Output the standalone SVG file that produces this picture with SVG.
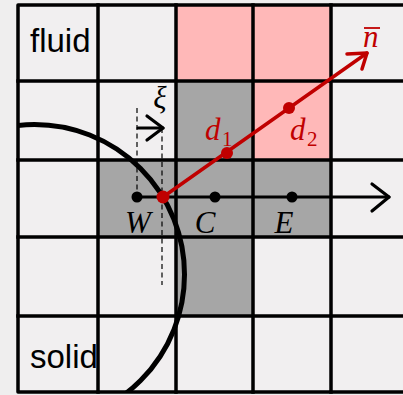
<svg xmlns="http://www.w3.org/2000/svg" width="403" height="395" viewBox="0 0 403 395">
<style>
.cell{fill:#f1eff0}
.pink{fill:#ffb8b8}
.gray{fill:#a6a6a6}
.grid{stroke:#000;stroke-width:3.5;fill:none;stroke-linejoin:round;stroke-linecap:square}
.lbl{font-family:"Liberation Sans",Arial,sans-serif;font-size:33px;fill:#000}
.math{font-family:"Liberation Serif","Times New Roman",serif;font-style:italic;font-size:31px}
.sub{font-family:"Liberation Serif","Times New Roman",serif;font-size:21px}
.dash{stroke:#000;stroke-width:1.2;stroke-dasharray:5 3.5;fill:none}
.blk{stroke:#000;stroke-width:3.2;fill:none;stroke-linecap:round;stroke-linejoin:round}
.red{stroke:#c00000;stroke-width:3.5;fill:none;stroke-linecap:round;stroke-linejoin:round}
</style>
<defs>
<clipPath id="gclip"><rect x="18" y="5" width="385" height="387"/></clipPath>
</defs>
<rect x="0" y="0" width="403" height="395" fill="#efeeee"/>
<g id="cells">
<rect class="cell" x="18" y="5" width="385" height="387"/>
<rect class="pink" x="176" y="5" width="155" height="76"/>
<rect class="pink" x="253" y="81" width="78" height="79"/>
<rect class="gray" x="176" y="81" width="77" height="79"/>
<rect class="gray" x="98" y="160" width="233" height="77"/>
<rect class="gray" x="176" y="237" width="77" height="79"/>
</g>
<g id="grid" class="grid">
<path d="M405,5 H18 V392 H405"/>
<path d="M98,5 V392 M176,5 V392 M253,5 V392 M331,5 V392"/>
<path d="M18,81 H405 M18,160 H405 M18,237 H405 M18,316 H405"/>
</g>
<g id="labels">
<text class="lbl" x="30" y="52">fluid</text>
<text class="lbl" x="30" y="368">solid</text>
</g>
<g id="solid-boundary">
<circle cx="34.5" cy="274.5" r="150" fill="none" stroke="#000" stroke-width="5" clip-path="url(#gclip)"/>
</g>
<g id="connectors">
<path class="dash" d="M137,108 V197"/>
<path class="dash" d="M162,128 V285"/>
<g id="xi-arrow">
<path class="blk" d="M138,128 H163" stroke-width="4"/>
<path class="blk" d="M147,116 L163,128 L147,140" stroke-width="4"/>
</g>
<g id="axis-arrow">
<path class="blk" d="M137,197 H389"/>
<path class="blk" d="M372,184 L389,197 L372,211"/>
</g>
<g id="normal-arrow">
<path class="red" d="M163,197 L367,53"/>
<path class="red" d="M347,54 L367,53 L362,69"/>
</g>
</g>
<g id="node-W">
<circle cx="137" cy="197" r="5.5" fill="#000"/>
<text class="math" x="138" y="233" text-anchor="middle" fill="#000">W</text>
</g>
<g id="node-C">
<circle cx="215" cy="197" r="5.5" fill="#000"/>
<text class="math" x="205" y="233" text-anchor="middle" fill="#000">C</text>
</g>
<g id="node-E">
<circle cx="292" cy="197" r="5.5" fill="#000"/>
<text class="math" x="284" y="233" text-anchor="middle" fill="#000">E</text>
</g>
<g id="node-wall">
<circle cx="163" cy="197" r="6.5" fill="#c00000"/>
</g>
<g id="node-d1">
<circle cx="227" cy="153" r="6" fill="#c00000"/>
<text class="math" x="205" y="140" fill="#c00000">d</text>
<text class="sub" x="222" y="146" fill="#c00000">1</text>
</g>
<g id="node-d2">
<circle cx="289" cy="108" r="6" fill="#c00000"/>
<text class="math" x="290" y="140" fill="#c00000">d</text>
<text class="sub" x="307" y="146" fill="#c00000">2</text>
</g>
<g id="label-n">
<text class="math" x="363" y="47" fill="#c00000">n</text>
<line x1="364" y1="28" x2="380" y2="28" stroke="#c00000" stroke-width="1.8"/>
</g>
<g id="label-xi">
<text class="math" x="160" y="108" text-anchor="middle" fill="#000" font-size="32">ξ</text>
</g>
</svg>
